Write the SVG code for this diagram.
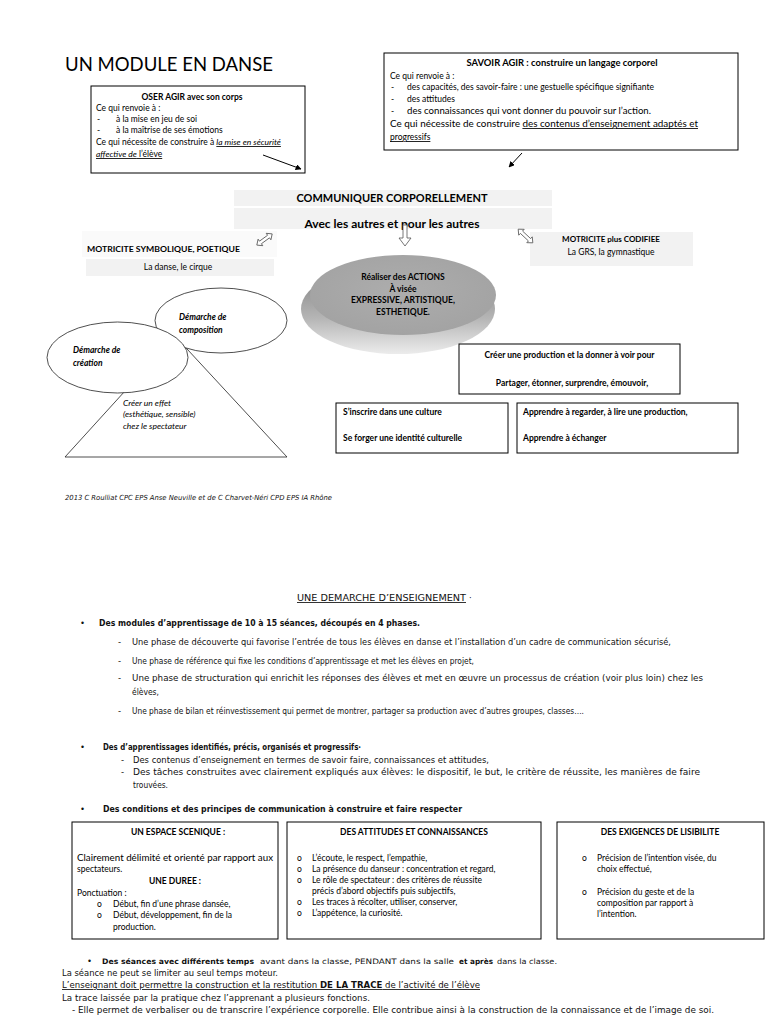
<svg xmlns="http://www.w3.org/2000/svg" width="768" height="1024" viewBox="0 0 768 1024">
<style>
.t{font-family:Lato,"Liberation Sans",sans-serif;font-size:8.5px;fill:#000}
.b{font-weight:bold}
.i{font-style:italic}
.m{text-anchor:middle}
.u{text-decoration:underline}
.c{font-family:"DejaVu Sans","Liberation Sans",sans-serif;font-size:8.5px;fill:#111}
.box{fill:#fff;stroke:#000;stroke-width:1}
.gray{fill:#f2f2f2}
.ell{fill:#fff;stroke:#222;stroke-width:0.8}
.blk{fill:#fff;stroke:#555;stroke-width:0.8}
.ln{stroke:#000;stroke-width:1;fill:none}
</style>
<defs>
<marker id="ah" viewBox="0 0 10 10" refX="9" refY="5" markerWidth="6" markerHeight="6" orient="auto">
<path d="M0,0 L10,5 L0,10 z" fill="#000"/>
</marker>
<linearGradient id="rim" x1="0" y1="0" x2="0" y2="1">
<stop offset="0" stop-color="#7a7a7a"/>
<stop offset="0.6" stop-color="#b5b5b5"/>
<stop offset="1" stop-color="#ececec"/>
</linearGradient>
<radialGradient id="face" cx="0.5" cy="0.45" r="0.6">
<stop offset="0" stop-color="#adadad"/>
<stop offset="1" stop-color="#a2a2a2"/>
</radialGradient>
</defs>
<rect width="768" height="1024" fill="#fff"/>

<text class="t" x="65" y="71" style="font-size:20px" textLength="208" lengthAdjust="spacingAndGlyphs">UN MODULE EN DANSE</text>

<g id="oser">
<rect class="box" x="91" y="86" width="214" height="87"/>
<text class="t b m" x="192" y="100">OSER AGIR avec son corps</text>
<text class="t" x="96" y="111">Ce qui renvoie à :</text>
<text class="t" x="97" y="122">-</text><text class="t" x="116" y="122">à la mise en jeu de soi</text>
<text class="t" x="97" y="133">-</text><text class="t" x="116" y="133">à la maîtrise de ses émotions</text>
<text class="t" x="96" y="145">Ce qui nécessite de construire à <tspan class="i u">la mise en sécurité</tspan></text>
<text class="t u" x="96" y="157"><tspan class="i">affective de</tspan> l’élève</text>
</g>

<g id="savoir">
<rect class="box" x="384" y="53" width="354" height="97"/>
<text class="t b m" x="562" y="66" textLength="191" lengthAdjust="spacingAndGlyphs">SAVOIR AGIR : construire un langage corporel</text>
<text class="t" x="390" y="78.5">Ce qui renvoie à :</text>
<text class="t" x="391" y="90">-</text><text class="t" x="407" y="90">des capacités, des savoir-faire : une gestuelle spécifique signifiante</text>
<text class="t" x="391" y="101.5">-</text><text class="t" x="407" y="101.5">des attitudes</text>
<text class="t" x="391" y="113.5">-</text><text class="t" x="407" y="113.5" textLength="244" lengthAdjust="spacingAndGlyphs">des connaissances qui vont donner du pouvoir sur l’action.</text>
<text class="t" x="390" y="127" textLength="308" lengthAdjust="spacingAndGlyphs">Ce qui nécessite de construire <tspan class="u">des contenus d’enseignement adaptés et</tspan></text>
<text class="t u" x="390" y="140">progressifs</text>
</g>

<g id="communiquer">
<rect class="gray" x="234" y="190" width="318" height="16"/>
<rect class="gray" x="234" y="208" width="318" height="21"/>
<text class="t b m" x="392" y="202" style="font-size:10.5px" textLength="191" lengthAdjust="spacingAndGlyphs">COMMUNIQUER CORPORELLEMENT</text>
<text class="t b m" x="392" y="228" style="font-size:11.5px" textLength="175" lengthAdjust="spacingAndGlyphs">Avec les autres et pour les autres</text>
</g>

<g id="symbolique">
<rect fill="#fafafa" x="82" y="231" width="195" height="26"/>
<text class="t b" x="87" y="252" style="font-size:8px" textLength="153" lengthAdjust="spacingAndGlyphs">MOTRICITE SYMBOLIQUE, POETIQUE</text>
<rect class="gray" x="86" y="259" width="188" height="17"/>
<text class="t m" x="178" y="270">La danse, le cirque</text>
</g>

<g id="codifiee">
<rect class="gray" x="530" y="232" width="163" height="34"/>
<text class="t b m" x="611" y="242" style="font-size:8px">MOTRICITE plus CODIFIEE</text>
<text class="t m" x="611" y="255">La GRS,  la gymnastique</text>
</g>

<g id="actions">
<ellipse cx="398" cy="309" rx="97" ry="45" fill="url(#rim)"/>
<ellipse cx="403" cy="295" rx="93" ry="40" fill="url(#face)"/>
<text class="t b m" x="403" y="280">Réaliser des ACTIONS</text>
<text class="t b m" x="403" y="292">À visée</text>
<text class="t b m" x="403" y="303">EXPRESSIVE, ARTISTIQUE,</text>
<text class="t b m" x="403" y="315">ESTHETIQUE.</text>
</g>

<g id="triangle">
<polygon class="ell" points="175,336 65,457 287,457"/>
<text class="t i" x="123" y="406">Créer un effet</text>
<text class="t i" x="123" y="417">(esthétique, sensible)</text>
<text class="t i" x="123" y="429">chez le spectateur</text>
</g>

<g id="composition">
<ellipse class="ell" cx="221" cy="320.5" rx="66" ry="32.5"/>
<text class="t b i" x="179" y="320">Démarche de</text>
<text class="t b i" x="179" y="333">composition</text>
</g>

<g id="creation">
<ellipse class="ell" cx="117.5" cy="357.5" rx="70.5" ry="35.5"/>
<text class="t b i" x="73" y="353">Démarche de</text>
<text class="t b i" x="73" y="366">création</text>
</g>

<g id="production">
<rect class="box" x="459" y="344" width="221" height="50"/>
<text class="t b m" x="569.5" y="358">Créer une production et la donner à voir pour</text>
<text class="t b m" x="572" y="386">Partager, étonner, surprendre, émouvoir,</text>
</g>

<g id="culture">
<rect class="box" x="336" y="403" width="172" height="50"/>
<text class="t b" x="343" y="415">S’inscrire dans une culture</text>
<text class="t b" x="343" y="441">Se forger une identité culturelle</text>
</g>

<g id="regarder">
<rect class="box" x="517" y="403" width="221" height="50"/>
<text class="t b" x="523" y="415">Apprendre à regarder, à lire une production,</text>
<text class="t b" x="523" y="441">Apprendre à échanger</text>
</g>

<g id="connectors">
<line class="ln" x1="263" y1="155" x2="301" y2="169" marker-end="url(#ah)"/>
<line class="ln" x1="522" y1="153" x2="509" y2="167" marker-end="url(#ah)"/>
<polygon class="blk" points="403,225 407,225 407,238 411,238 405,246 399,238 403,238"/>
<polygon class="blk" transform="translate(264.5 239.5) rotate(-36)" points="-9.5,0 -5,-4 -5,-1.6 5,-1.6 5,-4 9.5,0 5,4 5,1.6 -5,1.6 -5,4"/>
<polygon class="blk" transform="translate(525.5 236) rotate(43)" points="-10,0 -5.5,-4 -5.5,-1.6 5.5,-1.6 5.5,-4 10,0 5.5,4 5.5,1.6 -5.5,1.6 -5.5,4"/>
</g>

<text class="c i" x="65" y="500" style="font-size:7px" textLength="267" lengthAdjust="spacingAndGlyphs">2013 C Roulliat CPC EPS Anse Neuville et de C Charvet-Néri CPD EPS IA Rhône</text>

<g id="demarche">
<text class="c u" x="297" y="601" textLength="169" lengthAdjust="spacingAndGlyphs">UNE DEMARCHE D’ENSEIGNEMENT</text>
<text class="c" x="469" y="601">·</text>
<text class="c" x="80" y="626">•</text>
<text class="c b" x="99" y="626" textLength="321" lengthAdjust="spacingAndGlyphs">Des modules d’apprentissage de 10 à 15 séances, découpés en 4 phases.</text>
<text class="c" x="118" y="645">-</text>
<text class="c" x="132" y="645" textLength="539" lengthAdjust="spacingAndGlyphs">Une phase de découverte qui favorise l’entrée de tous les élèves en danse et l’installation d’un cadre de communication sécurisé,</text>
<text class="c" x="118" y="664">-</text>
<text class="c" x="132" y="664" textLength="342" lengthAdjust="spacingAndGlyphs">Une phase de référence qui fixe les conditions d’apprentissage et met les élèves en projet,</text>
<text class="c" x="118" y="681">-</text>
<text class="c" x="132" y="681" textLength="571" lengthAdjust="spacingAndGlyphs">Une phase de structuration qui enrichit les réponses des élèves et met en œuvre un processus de création (voir plus loin) chez les</text>
<text class="c" x="132" y="695" textLength="27" lengthAdjust="spacingAndGlyphs">élèves,</text>
<text class="c" x="118" y="714">-</text>
<text class="c" x="132" y="714" textLength="452" lengthAdjust="spacingAndGlyphs">Une phase de bilan et réinvestissement qui permet de montrer, partager sa production avec d’autres groupes, classes….</text>

<text class="c" x="80" y="750">•</text>
<text class="c b" x="103" y="750" textLength="258" lengthAdjust="spacingAndGlyphs">Des d’apprentissages identifiés, précis, organisés et progressifs·</text>
<text class="c" x="121" y="763">-</text>
<text class="c" x="133" y="763" textLength="356" lengthAdjust="spacingAndGlyphs">Des contenus d’enseignement en termes de savoir faire, connaissances et attitudes,</text>
<text class="c" x="121" y="775">-</text>
<text class="c" x="133" y="775" textLength="567" lengthAdjust="spacingAndGlyphs">Des tâches construites avec clairement expliqués aux élèves: le dispositif, le but, le critère de réussite, les manières de faire</text>
<text class="c" x="133" y="788" textLength="35" lengthAdjust="spacingAndGlyphs">trouvées.</text>

<text class="c" x="80" y="812">•</text>
<text class="c b" x="103" y="812" textLength="359" lengthAdjust="spacingAndGlyphs">Des conditions et des principes de communication à construire et faire respecter</text>
</g>

<g id="espace">
<rect class="box" x="72" y="822" width="206" height="117"/>
<text class="t b m" x="178" y="835">UN ESPACE SCENIQUE :</text>
<text class="t" x="77" y="861" textLength="196" lengthAdjust="spacingAndGlyphs">Clairement délimité et orienté par rapport aux</text>
<text class="t" x="77" y="872">spectateurs.</text>
<text class="t b m" x="175" y="884">UNE DUREE :</text>
<text class="t" x="77" y="896">Ponctuation :</text>
<text class="t" x="97" y="907">o</text><text class="t" x="113" y="907">Début, fin d’une phrase dansée,</text>
<text class="t" x="97" y="918">o</text><text class="t" x="113" y="918">Début, développement, fin de la</text>
<text class="t" x="113" y="930">production.</text>
</g>

<g id="attitudes">
<rect class="box" x="287" y="822" width="254" height="117"/>
<text class="t b m" x="414" y="835">DES ATTITUDES ET CONNAISSANCES</text>
<text class="t" x="297" y="861">o</text><text class="t" x="312" y="861">L’écoute, le respect, l’empathie,</text>
<text class="t" x="297" y="872">o</text><text class="t" x="312" y="872">La présence du danseur : concentration et regard,</text>
<text class="t" x="297" y="883">o</text><text class="t" x="312" y="883">Le rôle de spectateur : des critères de réussite</text>
<text class="t" x="312" y="894">précis d’abord objectifs puis subjectifs,</text>
<text class="t" x="297" y="905">o</text><text class="t" x="312" y="905">Les traces à récolter, utiliser, conserver,</text>
<text class="t" x="297" y="916">o</text><text class="t" x="312" y="916">L’appétence, la curiosité.</text>
</g>

<g id="lisibilite">
<rect class="box" x="557" y="822" width="207" height="117"/>
<text class="t b m" x="660" y="835">DES EXIGENCES DE LISIBILITE</text>
<text class="t" x="582" y="861">o</text><text class="t" x="597" y="861">Précision de l’intention visée, du</text>
<text class="t" x="597" y="872">choix effectué,</text>
<text class="t" x="582" y="895">o</text><text class="t" x="597" y="895">Précision du geste et de la</text>
<text class="t" x="597" y="906">composition par rapport à</text>
<text class="t" x="597" y="917">l’intention.</text>
</g>

<g id="seances">
<text class="c" x="87" y="964">•</text>
<text class="c b" x="102" y="964" style="font-size:7.5px" textLength="152" lengthAdjust="spacingAndGlyphs">Des séances avec différents temps</text>
<text class="c" x="260" y="964" style="font-size:7.5px" textLength="194" lengthAdjust="spacingAndGlyphs">avant dans la classe,  PENDANT dans la salle</text>
<text class="c b" x="459" y="964" style="font-size:7.5px" textLength="34" lengthAdjust="spacingAndGlyphs">et après</text>
<text class="c" x="497" y="964" style="font-size:7.5px" textLength="60" lengthAdjust="spacingAndGlyphs">dans la classe.</text>
<text class="c" x="62" y="976" textLength="216" lengthAdjust="spacingAndGlyphs">La séance ne peut se limiter au seul temps moteur.</text>
<text class="c u" x="62" y="988" textLength="418" lengthAdjust="spacingAndGlyphs">L’enseignant doit permettre la construction et la restitution <tspan class="b">DE LA TRACE</tspan> de l’activité de l’élève</text>
<text class="c" x="62" y="1001" textLength="308" lengthAdjust="spacingAndGlyphs">La trace laissée par la pratique chez l’apprenant a plusieurs fonctions.</text>
<text class="c" x="72" y="1013" textLength="642" lengthAdjust="spacingAndGlyphs">- Elle permet de verbaliser ou de transcrire l’expérience corporelle. Elle contribue ainsi à la construction de la connaissance et de l’image de soi.</text>
</g>
</svg>
